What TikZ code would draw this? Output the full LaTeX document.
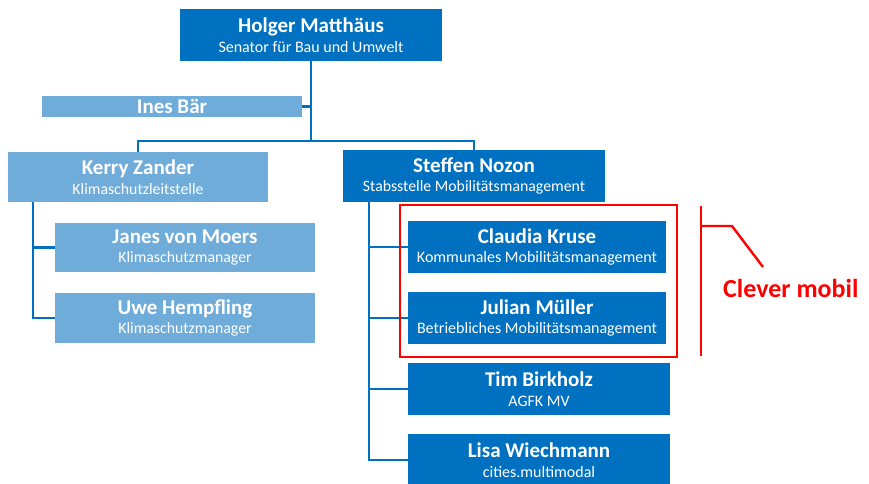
\documentclass[tikz,border=0pt]{standalone}
\usepackage{fontspec}
\setmainfont{Carlito}
\definecolor{dblue}{HTML}{0070C0}
\definecolor{lblue}{HTML}{6FACDA}
\definecolor{cred}{HTML}{FF0000}
\begin{document}
\begin{tikzpicture}[x=1pt,y=1pt,
  box/.style={inner sep=0pt, text=white, align=center, minimum width=260pt, minimum height=52pt, font=\fontsize{16}{19.5}\selectfont},
  dbox/.style={box, fill=dblue},
  lbox/.style={box, fill=lblue},
  conn/.style={draw=dblue, line width=2.8pt},
  redl/.style={draw=cred, line width=2.4pt},
]
\useasboundingbox (0,0) rectangle (869,-483);
\newcommand{\pn}[2]{{\fontsize{21}{19.5}\selectfont\bfseries #1}\\{\fontsize{16}{19.5}\selectfont #2}}
\newcommand{\pns}[2]{{\fontsize{21}{19.5}\selectfont\bfseries #1}\\{\fontsize{15.8}{19.5}\selectfont #2}}
% nodes
\node[dbox, minimum width=262pt] (holger) at (311,-35) {\pn{Holger Matthäus}{Senator für Bau und Umwelt}};
\node[lbox, minimum height=21pt, font=\fontsize{21}{21}\selectfont\bfseries] (ines) at (172,-106.5) {Ines Bär};
\node[lbox, minimum height=50pt] (kerry) at (138,-177) {\pns{Kerry Zander}{Klimaschutzleitstelle}};
\node[dbox, minimum width=262pt] (steffen) at (474,-176) {\pns{Steffen Nozon}{Stabsstelle Mobilitätsmanagement}};
\node[lbox, minimum height=49pt] (janes) at (185,-247.5) {\pns{Janes von Moers}{Klimaschutzmanager}};
\node[lbox, minimum height=50pt] (uwe) at (185,-318) {\pns{Uwe Hempfling}{Klimaschutzmanager}};
\node[dbox, minimum width=258pt] (claudia) at (537,-247) {\pn{Claudia Kruse}{Kommunales Mobilitätsmanagement}};
\node[dbox, minimum width=258pt] (julian) at (537,-318) {\pn{Julian Müller}{Betriebliches Mobilitätsmanagement}};
\node[dbox, minimum width=262pt] (tim) at (539,-389) {\pn{Tim Birkholz}{AGFK MV}};
\node[dbox, minimum width=262pt] (lisa) at (539,-460) {\pn{Lisa Wiechmann}{cities.multimodal}};
% connectors
\coordinate (j1) at (311,-141);
\coordinate (kx) at (33,-202);
\coordinate (sx) at (369,-202);
\draw[conn] (holger.south) -- (j1);
\draw[conn] (ines.east) -- (ines.east -| holger.south);
\draw[conn] (kerry.north) |- (j1) -| (steffen.north);
\draw[conn] (kx) |- (janes.west);
\draw[conn] (kx) |- (uwe.west);
\draw[conn] (sx) |- (claudia.west);
\draw[conn] (sx) |- (julian.west);
\draw[conn] (sx) |- (tim.west);
\draw[conn] (sx) |- (lisa.west);
% red group
\node[redl, minimum width=277pt, minimum height=152pt, inner sep=0pt] (grp) at (538.5,-281) {};
\coordinate (b1) at (701,-206);
\coordinate (b2) at (701,-356);
\coordinate (b3) at (701,-226);
\coordinate (b4) at (732,-226);
\coordinate (b5) at (763,-267);
\draw[redl] (b1) -- (b2);
\draw[redl] (b3) -- (b4) -- (b5);
\node[text=cred, font=\fontsize{26}{28}\selectfont\bfseries, anchor=west, inner sep=0pt] (clever) at (723,-288) {Clever mobil};
\end{tikzpicture}
\end{document}
